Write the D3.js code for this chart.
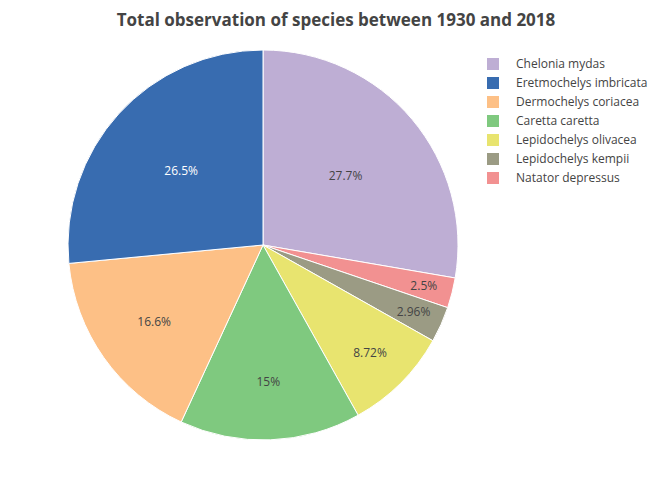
<!DOCTYPE html>
<html><head><meta charset="utf-8">
<script src="https://cdn.jsdelivr.net/npm/d3@7"></script>
<style>body{margin:0;background:#fff}text{font-family:"Open Sans",sans-serif}</style>
</head><body>
<svg id="chart" width="672" height="480"></svg>
<script>
// legend order
const species = ["Chelonia mydas","Eretmochelys imbricata","Dermochelys coriacea","Caretta caretta","Lepidochelys olivacea","Lepidochelys kempii","Natator depressus"];
const shares = [27.7, 26.5, 16.6, 15, 8.72, 2.96, 2.5];
const labels = ["27.7%","26.5%","16.6%","15%","8.72%","2.96%","2.5%"];
const colors = ["#beaed4","#386cb0","#fdc086","#7fc97f","#e8e46f","#9b9b84","#f29191"];
// drawing order, clockwise from 12 o'clock
const drawOrder = [0, 6, 5, 4, 3, 2, 1];

const svg = d3.select("#chart");
const cx = 263, cy = 245, r = 195;

svg.append("text").attr("x", 336).attr("y", 26).attr("text-anchor", "middle")
  .attr("font-size", 17).attr("font-weight", "bold").attr("fill", "#444")
  .text("Total observation of species between 1930 and 2018");

const pie = d3.pie().sort(null).value(i => shares[i]);
const arcs = pie(drawOrder);
const arc = d3.arc().innerRadius(0).outerRadius(r);
const g = svg.append("g").attr("transform", `translate(${cx},${cy})`);

g.selectAll("path").data(arcs).enter().append("path")
  .attr("d", arc).attr("fill", d => colors[d.data])
  .attr("stroke", "#fff").attr("stroke-width", 1);

g.selectAll("text.lab").data(arcs).enter().append("text")
  .attr("class", "lab")
  .attr("transform", d => {
    const f = shares[d.data] / 100;
    const rl = r * (0.55 + 0.33 * (1 - Math.min(f / 0.28, 1)));
    const a = (d.startAngle + d.endAngle) / 2;
    return `translate(${rl * Math.sin(a)},${-rl * Math.cos(a)})`;
  })
  .attr("text-anchor", "middle").attr("dy", "0.35em").attr("font-size", 12)
  .attr("fill", d => d.data === 1 ? "#fff" : "#444")
  .text(d => labels[d.data]);

const leg = svg.append("g").attr("transform", "translate(487,58)");
const rows = leg.selectAll("g").data(species).enter().append("g")
  .attr("transform", (d, i) => `translate(0,${i * 19})`);
rows.append("rect").attr("width", 12).attr("height", 12).attr("fill", (d, i) => colors[i]);
rows.append("text").attr("x", 29).attr("y", 6).attr("dy", "0.35em")
  .attr("font-size", 12).attr("fill", "#444").text(d => d);
</script>
</body></html>
